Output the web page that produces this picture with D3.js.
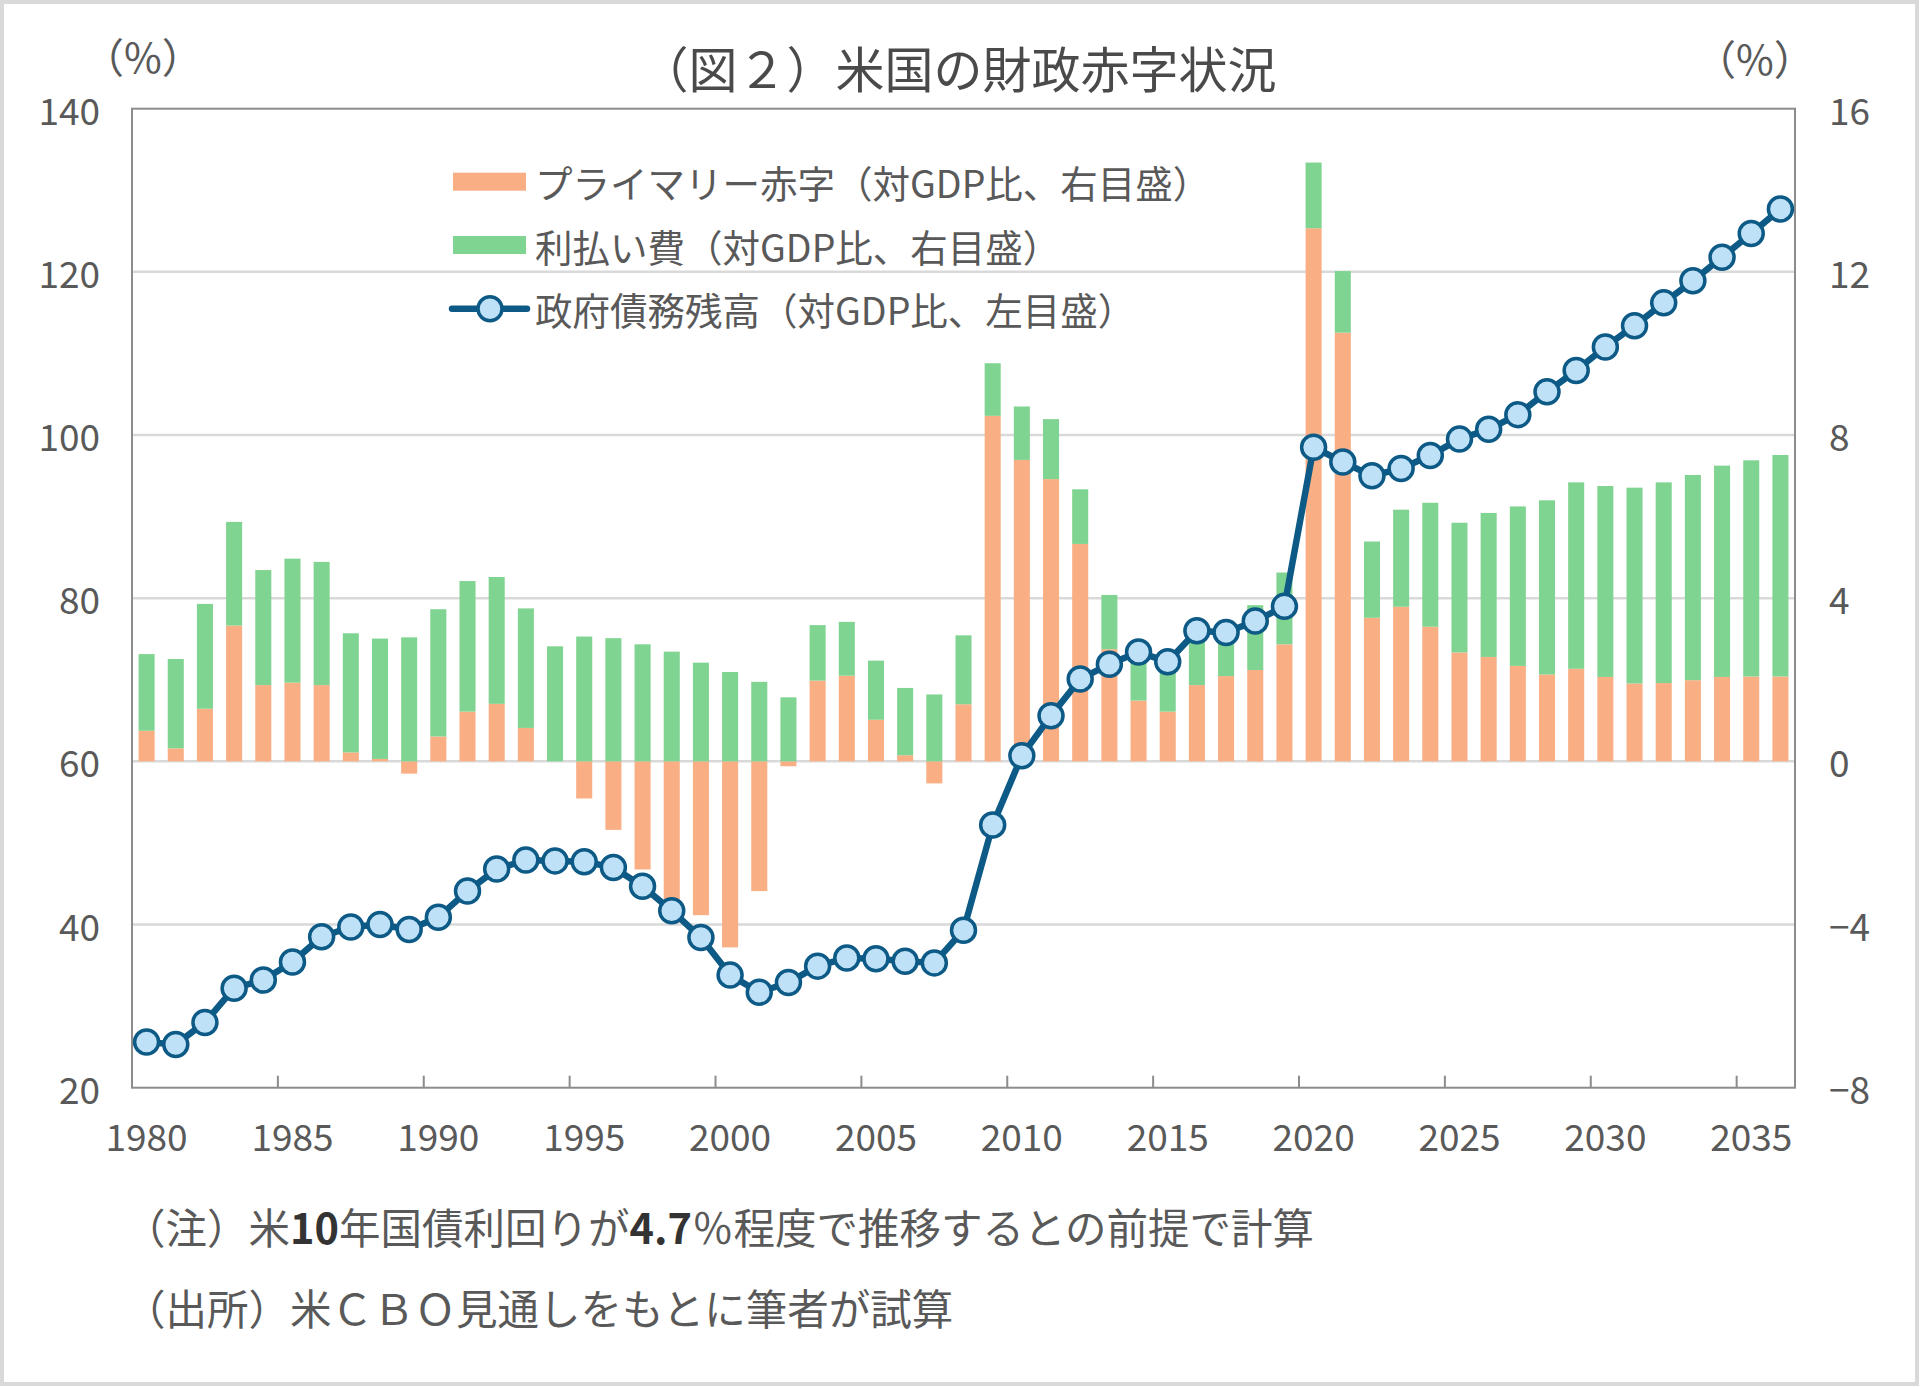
<!DOCTYPE html>
<html>
<head>
<meta charset="utf-8">
<script src="https://cdn.jsdelivr.net/npm/d3@7"></script>
<style>
  body { margin: 0; background: #fff; }
  text { font-family: "Noto Sans CJK JP", "Noto Sans", sans-serif; fill: #595959; }
</style>
</head>
<body>
<div id="chart"></div>
<script>
// years on the x axis
const years = d3.range(1980, 2037);

// primary deficit, % of GDP (right axis)
const primaryDeficit = [
  0.75, 0.32, 1.29, 3.33, 1.87, 1.93, 1.87, 0.22, 0.06, -0.30,
  0.61, 1.22, 1.41, 0.82, 0.00, -0.91, -1.68, -2.65, -3.45, -3.77,
  -4.56, -3.18, -0.12, 1.98, 2.10, 1.02, 0.15, -0.54, 1.40, 8.47,
  7.39, 6.92, 5.33, 2.75, 1.49, 1.22, 1.87, 2.09, 2.24, 2.87,
  13.07, 10.51, 3.52, 3.79, 3.30, 2.67, 2.56, 2.34, 2.13, 2.27,
  2.07, 1.91, 1.92, 1.99, 2.07, 2.08, 2.08
];

// net interest, % of GDP (right axis)
const interest = [
  1.88, 2.19, 2.57, 2.54, 2.82, 3.04, 3.02, 2.92, 2.95, 3.04,
  3.12, 3.20, 3.11, 2.93, 2.82, 3.06, 3.02, 2.87, 2.69, 2.42,
  2.19, 1.95, 1.57, 1.36, 1.32, 1.45, 1.65, 1.64, 1.69, 1.29,
  1.31, 1.47, 1.34, 1.33, 1.36, 1.23, 1.28, 1.36, 1.59, 1.76,
  1.61, 1.51, 1.87, 2.38, 3.04, 3.18, 3.53, 3.91, 4.27, 4.57,
  4.68, 4.80, 4.92, 5.03, 5.18, 5.30, 5.43
];

// federal debt held by public, % of GDP (left axis)
const debt = [
  25.6, 25.3, 28.0, 32.2, 33.2, 35.4, 38.5, 39.7, 40.0, 39.4,
  40.9, 44.1, 46.8, 47.9, 47.8, 47.7, 47.0, 44.7, 41.7, 38.4,
  33.8, 31.7, 32.9, 34.9, 35.9, 35.8, 35.5, 35.3, 39.3, 52.2,
  60.7, 65.6, 70.1, 71.9, 73.4, 72.2, 76.0, 75.8, 77.2, 79.0,
  98.5, 96.7, 95.0, 95.9, 97.5, 99.5, 100.7, 102.5, 105.3, 107.9,
  110.8, 113.4, 116.2, 118.9, 121.8, 124.7, 127.7
];

const leftTicks = [20, 40, 60, 80, 100, 120, 140];
const rightTicks = [-8, -4, 0, 4, 8, 12, 16];
const yearLabels = [1980, 1985, 1990, 1995, 2000, 2005, 2010, 2015, 2020, 2025, 2030, 2035];

const seriesNames = [
  "プライマリー赤字（対GDP比、右目盛）",
  "利払い費（対GDP比、右目盛）",
  "政府債務残高（対GDP比、左目盛）"
];

const width = 1920;
const height = 1387;
const plot = {left: 132, right: 1795, top: 108.7, bottom: 1087.7};

const colOrange = "#f9ae84";
const colGreen = "#80d491";
const colLine = "#0d5a86";
const colMarker = "#bfe1f7";

const svg = d3.select("#chart")
  .append("svg")
  .attr("width", width)
  .attr("height", height);

// outer frame
svg.append("rect")
  .attr("x", 2).attr("y", 2)
  .attr("width", width - 5).attr("height", height - 5)
  .attr("fill", "#fff")
  .attr("stroke", "#d9d9d9")
  .attr("stroke-width", 4);

const xScale = d3.scaleBand()
  .domain(years)
  .range([plot.left, plot.right])
  .paddingInner(0.45)
  .paddingOuter(0.225);

const yLeft = d3.scaleLinear().domain([20, 140]).range([plot.bottom, plot.top]);
const yRight = d3.scaleLinear().domain([-8, 16]).range([plot.bottom, plot.top]);

const step = xScale.step();
const bw = xScale.bandwidth();
const centre = y => xScale(y) + bw / 2;

// gridlines
svg.append("g")
  .selectAll("line")
  .data(leftTicks.slice(1, -1))
  .enter()
  .append("line")
    .attr("x1", plot.left).attr("x2", plot.right)
    .attr("y1", d => yLeft(d)).attr("y2", d => yLeft(d))
    .attr("stroke", "#d9d9d9")
    .attr("stroke-width", 2.5);

// stacked bars (diverging so surpluses go below zero)
const table = years.map((y, i) => ({year: y, primary: primaryDeficit[i], interest: interest[i]}));
const stack = d3.stack()
  .keys(["primary", "interest"])
  .offset(d3.stackOffsetDiverging);
const layers = stack(table);
const colours = {primary: colOrange, interest: colGreen};

svg.append("g")
  .selectAll("g")
  .data(layers)
  .enter()
  .append("g")
    .attr("fill", d => colours[d.key])
  .selectAll("rect")
  .data(d => d)
  .enter()
  .append("rect")
    .attr("x", d => xScale(d.data.year))
    .attr("width", bw)
    .attr("y", d => yRight(Math.max(d[0], d[1])))
    .attr("height", d => Math.abs(yRight(d[0]) - yRight(d[1])));

// plot border
svg.append("rect")
  .attr("x", plot.left).attr("y", plot.top)
  .attr("width", plot.right - plot.left)
  .attr("height", plot.bottom - plot.top)
  .attr("fill", "none")
  .attr("stroke", "#8c8c8c")
  .attr("stroke-width", 2);

// x tick marks at every 5th category boundary
svg.append("g")
  .selectAll("line")
  .data(yearLabels.slice(1))
  .enter()
  .append("line")
    .attr("x1", d => xScale(d) - (step - bw) / 2)
    .attr("x2", d => xScale(d) - (step - bw) / 2)
    .attr("y1", plot.bottom).attr("y2", plot.bottom - 12)
    .attr("stroke", "#8c8c8c")
    .attr("stroke-width", 2);

// debt line
const line = d3.line()
  .x((d, i) => centre(years[i]))
  .y(d => yLeft(d));

svg.append("path")
  .datum(debt)
  .attr("d", line)
  .attr("fill", "none")
  .attr("stroke", colLine)
  .attr("stroke-width", 6.5)
  .attr("stroke-linejoin", "round");

svg.append("g")
  .selectAll("circle")
  .data(debt)
  .enter()
  .append("circle")
    .attr("cx", (d, i) => centre(years[i]))
    .attr("cy", d => yLeft(d))
    .attr("r", 12)
    .attr("fill", colMarker)
    .attr("stroke", colLine)
    .attr("stroke-width", 3.5);

// axis labels
svg.append("g")
  .selectAll("text")
  .data(leftTicks)
  .enter()
  .append("text")
    .attr("x", 100)
    .attr("y", d => yLeft(d))
    .attr("dominant-baseline", "central")
    .attr("text-anchor", "end")
    .style("font-size", "37px")
    .text(d => d);

svg.append("g")
  .selectAll("text")
  .data(rightTicks)
  .enter()
  .append("text")
    .attr("x", 1829)
    .attr("y", d => yRight(d))
    .attr("dominant-baseline", "central")
    .style("font-size", "37px")
    .text(d => d < 0 ? "−" + Math.abs(d) : d);

svg.append("g")
  .selectAll("text")
  .data(yearLabels)
  .enter()
  .append("text")
    .attr("x", d => centre(d))
    .attr("y", 1135)
    .attr("dominant-baseline", "central")
    .attr("text-anchor", "middle")
    .style("font-size", "37px")
    .text(d => d);

// units
svg.append("text")
  .attr("x", 143).attr("y", 55)
  .attr("dominant-baseline", "central")
  .attr("text-anchor", "middle")
  .style("font-size", "41px")
  .text("（%）");

svg.append("text")
  .attr("x", 1755).attr("y", 57)
  .attr("dominant-baseline", "central")
  .attr("text-anchor", "middle")
  .style("font-size", "41px")
  .text("（%）");

// title
svg.append("text")
  .attr("x", 958).attr("y", 66)
  .attr("dominant-baseline", "central")
  .attr("text-anchor", "middle")
  .style("font-size", "49px")
  .style("fill", "#4a4a4a")
  .text("（図２）米国の財政赤字状況");

// legend
const legendRows = [181.7, 245, 308.7];
const legend = svg.append("g");

legend.append("rect")
  .attr("x", 453).attr("y", legendRows[0] - 9)
  .attr("width", 73).attr("height", 18)
  .attr("fill", colOrange);

legend.append("rect")
  .attr("x", 453).attr("y", legendRows[1] - 9)
  .attr("width", 73).attr("height", 18)
  .attr("fill", colGreen);

legend.append("line")
  .attr("x1", 452).attr("x2", 527)
  .attr("y1", legendRows[2]).attr("y2", legendRows[2])
  .attr("stroke", colLine)
  .attr("stroke-width", 6.5)
  .attr("stroke-linecap", "round");

legend.append("circle")
  .attr("cx", 490).attr("cy", legendRows[2])
  .attr("r", 12)
  .attr("fill", colMarker)
  .attr("stroke", colLine)
  .attr("stroke-width", 3.5);

legend.selectAll("text")
  .data(seriesNames)
  .enter()
  .append("text")
    .attr("x", 535)
    .attr("y", (d, i) => legendRows[i])
    .attr("dominant-baseline", "central")
    .style("font-size", "37.5px")
    .text(d => d);

// notes
const note1 = svg.append("text")
  .attr("x", 124).attr("y", 1226)
  .attr("dominant-baseline", "central")
  .style("font-size", "41.5px");
note1.append("tspan").text("（注）米");
note1.append("tspan").style("font-weight", "bold").style("fill", "#333").text("10");
note1.append("tspan").text("年国債利回りが");
note1.append("tspan").style("font-weight", "bold").style("fill", "#333").text("4.7");
note1.append("tspan").text("％程度で推移するとの前提で計算");

svg.append("text")
  .attr("x", 124).attr("y", 1307)
  .attr("dominant-baseline", "central")
  .style("font-size", "41.5px")
  .text("（出所）米ＣＢＯ見通しをもとに筆者が試算");
</script>
</body>
</html>
